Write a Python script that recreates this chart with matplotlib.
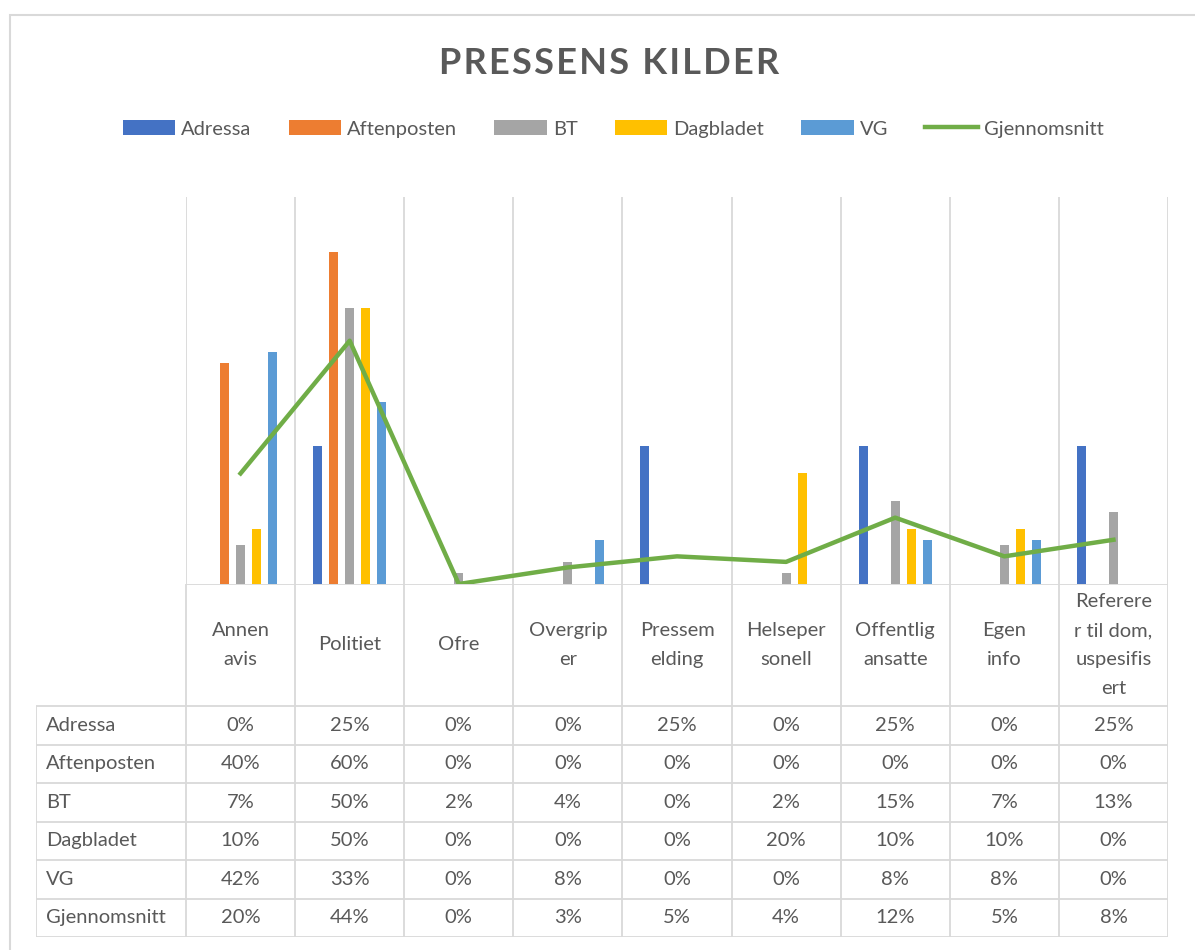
import numpy as np
import matplotlib.pyplot as plt
from matplotlib.patches import Rectangle

categories = ['Annen\navis', 'Politiet', 'Ofre', 'Overgrip\ner', 'Pressem\nelding',
              'Helseper\nsonell', 'Offentlig\nansatte', 'Egen\ninfo',
              'Referere\nr til dom,\nuspesifis\nert']
series_names = ['Adressa', 'Aftenposten', 'BT', 'Dagbladet', 'VG']
adressa = [0, 25, 0, 0, 25, 0, 25, 0, 25]
aftenposten = [40, 60, 0, 0, 0, 0, 0, 0, 0]
bt = [7, 50, 2, 4, 0, 2, 15, 7, 13]
dagbladet = [10, 50, 0, 0, 0, 20, 10, 10, 0]
vg = [42, 33, 0, 8, 0, 0, 8, 8, 0]
snitt = [20, 44, 0, 3, 5, 4, 12, 5, 8]

colors = ['#4472C4', '#ED7D31', '#A5A5A5', '#FFC000', '#5B9BD5']
line_color = '#70AD47'
text_color = '#595959'
grid_color = '#D9D9D9'

plt.rcParams['font.family'] = ['Lato', 'DejaVu Sans']

W, H = 1195, 950
fig = plt.figure(figsize=(W / 100, H / 100), dpi=100)

def box(l, t, r, b):
    return [l / W, 1 - b / H, (r - l) / W, (b - t) / H]

# chart area border
fig.patches.append(Rectangle((10 / W, -0.05), 1.1, 1 - 15 / H + 0.05, transform=fig.transFigure,
                             fill=False, edgecolor=grid_color, lw=1.5))

title = '\u200a'.join('PRESSENS KILDER')
fig.text(609 / W, 1 - 63 / H, title, ha='center', va='center',
         fontsize=26, fontweight='bold', color=text_color)

# bars + line
ax = fig.add_axes(box(186, 197, 1168, 584))
x = np.arange(len(categories))
all_series = [adressa, aftenposten, bt, dagbladet, vg]
step = 0.147
bw = 0.082
for i, (vals, name) in enumerate(zip(all_series, series_names)):
    ax.bar(x + (i - 2) * step, np.array(vals) / 100, width=bw, color=colors[i], label=name, zorder=3)
ax.plot(x, np.array(snitt) / 100, color=line_color, lw=3.2, label='Gjennomsnitt', zorder=4)
ax.vlines(np.arange(-0.5, len(categories)), 0, 0.7, color=grid_color, lw=1.3, zorder=1)
ax.set_xlim(-0.5, len(categories) - 0.5)
ax.set_ylim(0, 0.7)
ax.axis('off')

handles, labels = ax.get_legend_handles_labels()
order = [1, 2, 3, 4, 5, 0]
fig.legend([handles[k] for k in order], [labels[k] for k in order],
           loc='center', bbox_to_anchor=(613 / W, 1 - 129 / H), ncol=6, frameon=False,
           fontsize=14.5, handlelength=2.6, handleheight=0.7, handletextpad=0.3,
           columnspacing=1.85, labelcolor=text_color)

# data table
tx = fig.add_axes(box(36, 584, 1168, 937))
label_w = 150 / (982 / 9)
tx.set_xlim(-0.5 - label_w, len(categories) - 0.5)
header_h = 122
row_h = 38.5
rows = series_names + ['Gjennomsnitt']
table_vals = all_series + [snitt]
total_h = header_h + row_h * len(rows)
tx.set_ylim(total_h, 0)
tx.axis('off')

lw = 1.3
tx.vlines(np.arange(-0.5, len(categories)), 0, total_h, color=grid_color, lw=lw)
tx.vlines(-0.5 - label_w, header_h, total_h, color=grid_color, lw=lw)
tx.hlines(0, -0.5, len(categories) - 0.5, color=grid_color, lw=lw)
for r in range(len(rows) + 1):
    tx.hlines(header_h + r * row_h, -0.5 - label_w, len(categories) - 0.5, color=grid_color, lw=lw)

for j, cat in enumerate(categories):
    tx.text(j, header_h / 2, cat, ha='center', va='center', fontsize=14.5,
            color=text_color, linespacing=1.85)

for r, (name, vals) in enumerate(zip(rows, table_vals)):
    yc = header_h + (r + 0.5) * row_h
    tx.text(-0.5 - label_w + 0.09, yc, name, ha='left', va='center', fontsize=14.5, color=text_color)
    for j, v in enumerate(vals):
        tx.text(j, yc, f'{v}%', ha='center', va='center', fontsize=14.5, color=text_color)

fig.savefig('out.png', dpi=100)
